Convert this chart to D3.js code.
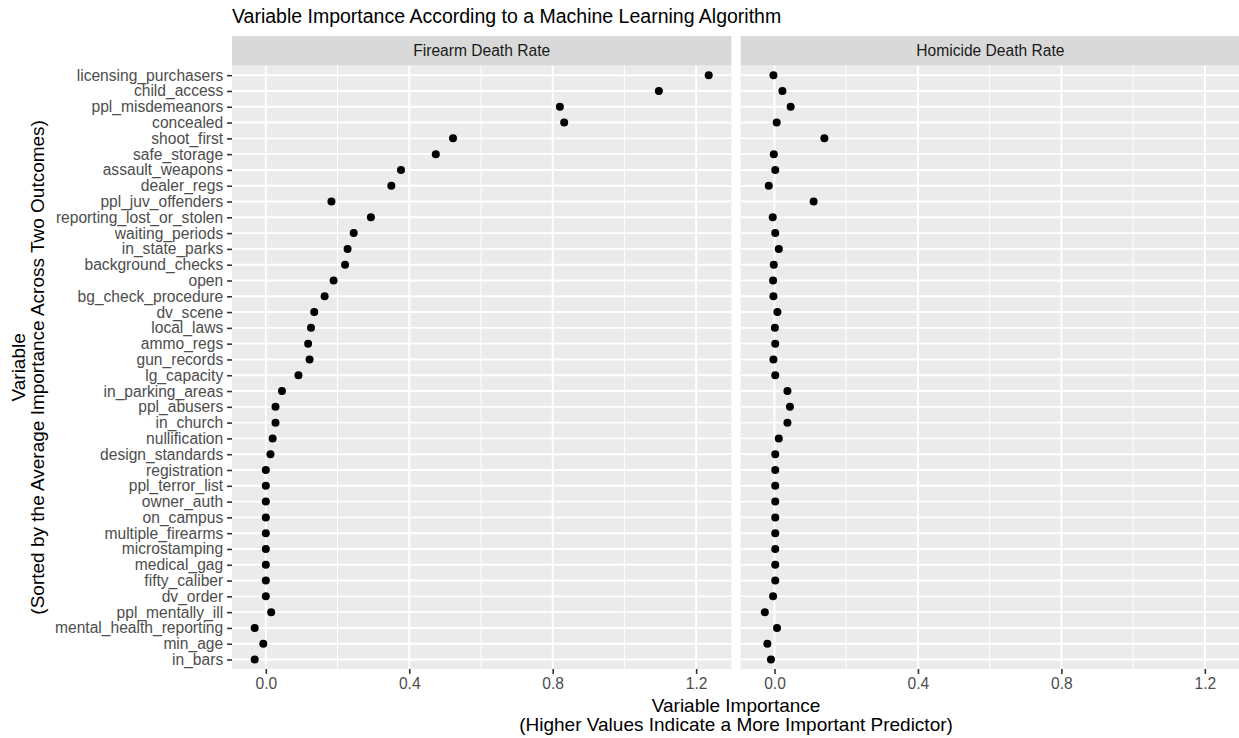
<!DOCTYPE html>
<html>
<head>
<meta charset="utf-8">
<script src="https://cdn.jsdelivr.net/npm/d3@7"></script>
<style>
  html, body { margin: 0; padding: 0; background: #fff; }
  svg { display: block; font-family: "Liberation Sans", Arial, Helvetica, sans-serif; }
</style>
</head>
<body>
<svg id="chart" width="1239" height="738"></svg>
<script>
// ---- data ----
const variables = [
  "licensing_purchasers", "child_access", "ppl_misdemeanors", "concealed", "shoot_first",
  "safe_storage", "assault_weapons", "dealer_regs", "ppl_juv_offenders", "reporting_lost_or_stolen",
  "waiting_periods", "in_state_parks", "background_checks", "open", "bg_check_procedure",
  "dv_scene", "local_laws", "ammo_regs", "gun_records", "lg_capacity",
  "in_parking_areas", "ppl_abusers", "in_church", "nullification", "design_standards",
  "registration", "ppl_terror_list", "owner_auth", "on_campus", "multiple_firearms",
  "microstamping", "medical_gag", "fifty_caliber", "dv_order", "ppl_mentally_ill",
  "mental_health_reporting", "min_age", "in_bars"
];
const firearmImportance = [
  1.235, 1.096, 0.820, 0.832, 0.522,
  0.474, 0.377, 0.350, 0.183, 0.293,
  0.245, 0.228, 0.221, 0.189, 0.164,
  0.135, 0.126, 0.118, 0.122, 0.091,
  0.045, 0.027, 0.027, 0.019, 0.013,
  0.000, 0.000, 0.000, 0.000, 0.000,
  0.000, 0.000, 0.000, 0.000, 0.015,
  -0.031, -0.007, -0.031
];
const homicideImportance = [
  -0.003, 0.022, 0.045, 0.006, 0.139,
  -0.002, 0.002, -0.016, 0.109, -0.005,
  0.002, 0.012, -0.002, -0.004, -0.003,
  0.008, 0.001, 0.002, -0.003, 0.002,
  0.036, 0.043, 0.036, 0.012, 0.002,
  0.002, 0.002, 0.002, 0.002, 0.002,
  0.002, 0.002, 0.002, -0.004, -0.027,
  0.007, -0.020, -0.010
];
const facetNames = ["Firearm Death Rate", "Homicide Death Rate"];
const xTicks = [0.0, 0.4, 0.8, 1.2];
const xMinorTicks = [0.2, 0.6, 1.0];
const titleText = "Variable Importance According to a Machine Learning Algorithm";
const xTitle = ["Variable Importance", "(Higher Values Indicate a More Important Predictor)"];
const yTitle = ["Variable", "(Sorted by the Average Importance Across Two Outcomes)"];

// ---- layout ----
const svg = d3.select("#chart");
const panelTop = 65.7, panelBottom = 669;
const stripTop = 36;
const panelW = 499.4, panelGap = 9.3;
const panel1Left = 232;
const panelLefts = [panel1Left, panel1Left + panelW + panelGap];
const series = [firearmImportance, homicideImportance];

const all = firearmImportance.concat(homicideImportance);
const dmin = d3.min(all), dmax = d3.max(all);
const ex = (dmax - dmin) * 0.05;
const xDomain = [dmin - ex, dmax + ex];

const y = d3.scalePoint().domain(variables).range([panelTop, panelBottom]).padding(0.6);

const fontAxis = 15.6;
const fontAxisTitle = 19;
const lineGap = 18.6;
const tickLen = 4.9;
const tickPad = 3.9;

// title
svg.append("text")
  .attr("x", panel1Left).attr("y", 23)
  .attr("font-size", 19.5).attr("fill", "#000")
  .text(titleText);

facetNames.forEach((name, i) => {
  const left = panelLefts[i];
  const x = d3.scaleLinear().domain(xDomain).range([left, left + panelW]);
  const g = svg.append("g");

  // strip
  g.append("rect").attr("x", left).attr("y", stripTop)
    .attr("width", panelW).attr("height", panelTop - stripTop).attr("fill", "#D9D9D9");
  g.append("text").attr("x", left + panelW / 2).attr("y", (stripTop + panelTop) / 2)
    .attr("dy", "0.35em").attr("text-anchor", "middle")
    .attr("font-size", fontAxis).attr("fill", "#1A1A1A").text(name);

  // panel background
  g.append("rect").attr("x", left).attr("y", panelTop)
    .attr("width", panelW).attr("height", panelBottom - panelTop).attr("fill", "#EBEBEB");

  // minor grid
  g.selectAll(".minor").data(xMinorTicks).join("line")
    .attr("x1", d => x(d)).attr("x2", d => x(d))
    .attr("y1", panelTop).attr("y2", panelBottom)
    .attr("stroke", "#fff").attr("stroke-width", 0.95);
  // major grid
  g.selectAll(".majorx").data(xTicks).join("line")
    .attr("x1", d => x(d)).attr("x2", d => x(d))
    .attr("y1", panelTop).attr("y2", panelBottom)
    .attr("stroke", "#fff").attr("stroke-width", 1.9);
  g.selectAll(".majory").data(variables).join("line")
    .attr("x1", left).attr("x2", left + panelW)
    .attr("y1", d => y(d)).attr("y2", d => y(d))
    .attr("stroke", "#fff").attr("stroke-width", 1.9);

  // points
  g.selectAll("circle").data(variables).join("circle")
    .attr("cx", (d, j) => x(series[i][j]))
    .attr("cy", d => y(d))
    .attr("r", 4).attr("fill", "#000");

  // x axis
  const xAxis = d3.axisBottom(x).tickValues(xTicks).tickFormat(d3.format(".1f"))
    .tickSize(tickLen).tickPadding(tickPad);
  const ax = svg.append("g").attr("transform", `translate(0,${panelBottom})`).call(xAxis);
  ax.select(".domain").remove();
  ax.selectAll(".tick line").attr("stroke", "#333333").attr("stroke-width", 1.6);
  ax.selectAll(".tick text").attr("fill", "#4D4D4D").attr("font-size", fontAxis)
    .attr("font-family", "Liberation Sans, Arial, sans-serif");
});

// y axis (left panel only)
const yAxis = d3.axisLeft(y).tickSize(tickLen).tickPadding(tickPad);
const ay = svg.append("g").attr("transform", `translate(${panel1Left},0)`).call(yAxis);
ay.select(".domain").remove();
ay.selectAll(".tick line").attr("stroke", "#333333").attr("stroke-width", 1.6);
ay.selectAll(".tick text").attr("fill", "#4D4D4D").attr("font-size", fontAxis)
  .attr("font-family", "Liberation Sans, Arial, sans-serif");

// x axis title (two lines in one text element)
const xCenter = (panelLefts[0] + panelLefts[1] + panelW) / 2;
const xt = svg.append("text").attr("x", xCenter).attr("y", 712)
  .attr("text-anchor", "middle").attr("font-size", fontAxisTitle).attr("fill", "#000");
xTitle.forEach((t, k) => {
  xt.append("tspan").attr("x", xCenter).attr("dy", k === 0 ? 0 : lineGap).text(t);
});

// y axis title (two lines in one text element)
const yCenter = (panelTop + panelBottom) / 2;
const yt = svg.append("text")
  .attr("transform", `translate(25,${yCenter}) rotate(-90)`)
  .attr("text-anchor", "middle").attr("font-size", fontAxisTitle).attr("fill", "#000");
yTitle.forEach((t, k) => {
  yt.append("tspan").attr("x", 0).attr("dy", k === 0 ? 0 : lineGap).text(t);
});
</script>
</body>
</html>
